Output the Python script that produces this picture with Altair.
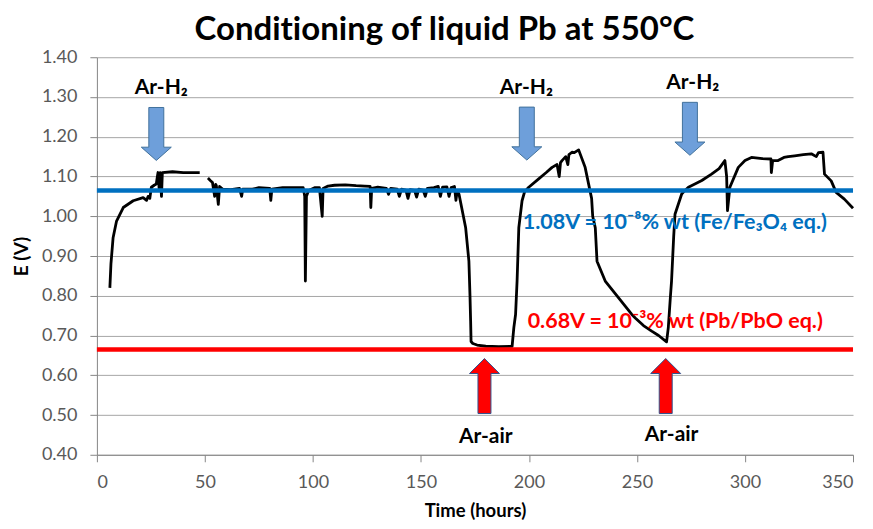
import altair as alt
import pandas as pd

# ---------------- data ----------------
# black potential trace: time (hours), E (V), segment id (gap near 48-51 h)
time_h = [6.0, 6.5, 7.5, 9.1, 12.2, 16.8, 21.4, 23.0, 23.7, 24.5, 25.2, 26.5, 27.5, 28.0, 28.3, 28.8, 29.3, 29.9, 30.3, 35.0, 40.0, 47.6,
          51.4, 52.5, 53.5, 54.5, 55.0, 55.3, 56.2, 56.8, 58.3, 62.0, 66.0, 67.0, 67.5, 72.0, 75.0, 80.0, 80.5, 81.0, 86.0, 90.0,
          95.5, 96.2, 96.5, 97.0, 98.0, 101.0, 103.0, 104.3, 104.7, 107.0, 110.0, 115.0, 120.0, 124.0, 126.5, 126.8, 127.2, 130.0,
          134.0, 135.0, 136.0, 139.0, 140.0, 141.0, 143.0, 144.0, 145.0, 147.0, 148.0, 149.0, 151.0, 152.0, 153.0, 156.0, 158.0,
          159.0, 160.0, 162.0, 163.0, 164.0, 165.5, 166.2, 166.8, 167.6, 170.7, 172.2, 172.7, 173.0, 173.2, 174.0, 176.0, 180.0,
          186.0, 192.2, 193.0, 193.8, 194.5, 195.3, 196.8, 198.0, 199.9, 204.5, 208.0, 210.7, 213.0, 214.0, 214.6, 215.3, 217.0,
          218.0, 218.5, 219.9, 221.0, 223.0, 226.0, 229.0, 229.5, 230.7, 231.5, 235.3, 241.5, 247.6, 249.2, 253.0, 256.8, 260.0,
          263.7, 264.5, 265.5, 266.0, 267.0, 267.6, 270.7, 272.2, 273.8, 276.8, 280.0, 284.5, 288.0, 290.7, 291.5, 291.9, 293.0,
          296.9, 300.0, 303.0, 308.0, 312.0, 312.2, 312.8, 315.3, 318.0, 320.0, 323.0, 327.0, 330.7, 333.0, 334.0, 336.1, 336.8,
          339.9, 342.2, 346.0, 350.0]
e_volt = [0.82, 0.88, 0.946, 0.988, 1.022, 1.039, 1.047, 1.040, 1.05, 1.045, 1.073, 1.078, 1.081, 1.10, 1.11, 1.07, 1.11, 1.05, 1.11, 1.112, 1.11, 1.11,
          1.096, 1.09, 1.085, 1.05, 1.08, 1.077, 1.03, 1.075, 1.068, 1.067, 1.07, 1.05, 1.068, 1.068, 1.072, 1.07, 1.04, 1.068, 1.072, 1.072,
          1.072, 1.05, 0.837, 1.05, 1.065, 1.072, 1.072, 1.0, 1.07, 1.076, 1.078, 1.079, 1.077, 1.076, 1.075, 1.022, 1.07, 1.073,
          1.070, 1.055, 1.07, 1.068, 1.05, 1.068, 1.066, 1.045, 1.067, 1.065, 1.048, 1.068, 1.066, 1.05, 1.07, 1.072, 1.075,
          1.05, 1.073, 1.074, 1.05, 1.072, 1.075, 1.04, 1.065, 1.056, 0.971, 0.887, 0.80, 0.736, 0.685, 0.68, 0.676, 0.673,
          0.672, 0.673, 0.72, 0.753, 0.837, 0.971, 1.039, 1.062, 1.073, 1.094, 1.11, 1.123, 1.13, 1.10, 1.135, 1.14, 1.15,
          1.13, 1.155, 1.161, 1.16, 1.167, 1.123, 1.045, 1.00, 0.971, 0.887, 0.837, 0.795, 0.753, 0.744, 0.725, 0.711, 0.70,
          0.684, 0.72, 0.80, 0.837, 0.95, 1.005, 1.056, 1.065, 1.073, 1.081, 1.09, 1.106, 1.12, 1.14, 1.10, 1.014, 1.073,
          1.123, 1.14, 1.148, 1.145, 1.144, 1.11, 1.14, 1.14, 1.148, 1.15, 1.152, 1.155, 1.157, 1.15, 1.16, 1.161, 1.106,
          1.089, 1.06, 1.043, 1.02]
segment = [1] * 22 + [2] * (len(time_h) - 22)

fe_level = [1.065]   # blue reference line
pb_level = [0.665]   # red reference line

x_ticks = [0, 50, 100, 150, 200, 250, 300, 350]
y_ticks = [0.40, 0.50, 0.60, 0.70, 0.80, 0.90, 1.00, 1.10, 1.20, 1.30, 1.40]

h2_arrow_t = [27.5, 199.0, 274.5]
h2_arrow_e = [1.207, 1.208, 1.220]
h2_label_t = [29.8, 198.8, 275.8]
h2_label_e = [1.322, 1.322, 1.335]
h2_labels = ["Ar-H₂", "Ar-H₂", "Ar-H₂"]

air_arrow_t = [179.4, 263.3]
air_arrow_e = [0.573, 0.573]
air_label_t = [180.0, 266.0]
air_label_e = [0.445, 0.450]
air_labels = ["Ar-air", "Ar-air"]

fe_text = ["1.08V = 10⁻⁸% wt (Fe/Fe₃O₄ eq.)"]
fe_text_pos = [197.1, 0.983]
pb_text = ["0.68V = 10⁻³% wt (Pb/PbO eq.)"]
pb_text_pos = [199.4, 0.735]

# zero-width non-joiner keeps the font from forming a "ti" ligature
title_text = ["Condit\u200cioning of liquid Pb at 550°C"]

# ---------------- chart ----------------
FONT = "Lato"
xs = alt.Scale(domain=[0, 350], nice=False, zero=False)
ys = alt.Scale(domain=[0.4, 1.4], nice=False, zero=False)

x_axis = alt.Axis(
    values=x_ticks, title="Time (hours)", grid=False, format="d",
    labelFontSize=18, labelColor="#595959", labelFont=FONT, labelPadding=12,
    tickSize=7, tickColor="#868686", domainColor="#868686",
    titleFont=FONT, titleFontSize=18.5, titleFontWeight="bold", titleColor="black",
    titleY=56, titleBaseline="middle")
y_axis = alt.Axis(
    values=y_ticks, title="E (V)", grid=True, format=".2f",
    gridColor="#A6A6A6", gridWidth=1,
    labelFontSize=18, labelColor="#595959", labelFont=FONT, labelPadding=13,
    tickSize=7, tickColor="#868686", domainColor="#868686",
    titleFont=FONT, titleFontSize=19, titleFontWeight="bold", titleColor="black",
    titleX=-75, titleY=199, titleBaseline="middle")


def X(field):
    return alt.X(field, type="quantitative", scale=xs, axis=x_axis)


def Y(field):
    return alt.Y(field, type="quantitative", scale=ys, axis=y_axis)


trace = pd.DataFrame({"t": time_h, "e": e_volt, "seg": segment})

base_line = alt.Chart(trace).mark_line(color="black", strokeWidth=2.8, strokeJoin="round").encode(
    x=X("t"), y=Y("e"), detail="seg:N")

fe_rule = alt.Chart(pd.DataFrame({"e": fe_level})).mark_rule(color="#0070C0", strokeWidth=4.5).encode(y=Y("e"))
pb_rule = alt.Chart(pd.DataFrame({"e": pb_level})).mark_rule(color="#FF0000", strokeWidth=4.5).encode(y=Y("e"))

down_arrow = "M-0.283,-1 L0.283,-1 L0.283,0.5 L0.566,0.5 L0,1 L-0.566,0.5 L-0.283,0.5 Z"
up_arrow = "M-0.236,1 L0.236,1 L0.236,-0.455 L0.545,-0.455 L0,-1 L-0.545,-0.455 L-0.236,-0.455 Z"

h2_arrows = alt.Chart(pd.DataFrame({"t": h2_arrow_t, "e": h2_arrow_e})).mark_point(
    shape=down_arrow, filled=True, fill="#6E9FDA", stroke="#41719C", strokeWidth=1, size=2809, opacity=1
).encode(x=X("t"), y=Y("e"))

air_arrows = alt.Chart(pd.DataFrame({"t": air_arrow_t, "e": air_arrow_e})).mark_point(
    shape=up_arrow, filled=True, fill="#FF0000", stroke="#2F528F", strokeWidth=1, size=3025, opacity=1
).encode(x=X("t"), y=Y("e"))

h2_text = alt.Chart(pd.DataFrame({"t": h2_label_t, "e": h2_label_e, "s": h2_labels})).mark_text(
    font=FONT, fontSize=21, fontWeight="bold", color="black", align="center", baseline="middle"
).encode(x=X("t"), y=Y("e"), text="s:N")

air_text = alt.Chart(pd.DataFrame({"t": air_label_t, "e": air_label_e, "s": air_labels})).mark_text(
    font=FONT, fontSize=21, fontWeight="bold", color="black", align="center", baseline="middle"
).encode(x=X("t"), y=Y("e"), text="s:N")

fe_label = alt.Chart(pd.DataFrame({"t": [fe_text_pos[0]], "e": [fe_text_pos[1]], "s": fe_text})).mark_text(
    font=FONT, fontSize=21.5, fontWeight="bold", color="#0070C0", align="left", baseline="middle"
).encode(x=X("t"), y=Y("e"), text="s:N")

pb_label = alt.Chart(pd.DataFrame({"t": [pb_text_pos[0]], "e": [pb_text_pos[1]], "s": pb_text})).mark_text(
    font=FONT, fontSize=21.5, fontWeight="bold", color="#FF0000", align="left", baseline="middle"
).encode(x=X("t"), y=Y("e"), text="s:N")

title = alt.Chart(pd.DataFrame({"s": title_text})).mark_text(
    font=FONT, fontSize=33, fontWeight="bold", color="black", align="center", baseline="alphabetic"
).encode(x=alt.value(348), y=alt.value(-17), text="s:N")

chart = alt.layer(
    base_line, fe_rule, pb_rule, h2_arrows, air_arrows, h2_text, air_text, fe_label, pb_label, title
).properties(
    width=757, height=398,
    background="white",
    autosize=alt.AutoSizeParams(type="none"),
    padding={"left": 89, "top": 49, "right": 12, "bottom": 66},
).configure_view(stroke=None)

chart.save("out.html", embed_options={"renderer": "svg", "actions": False})
